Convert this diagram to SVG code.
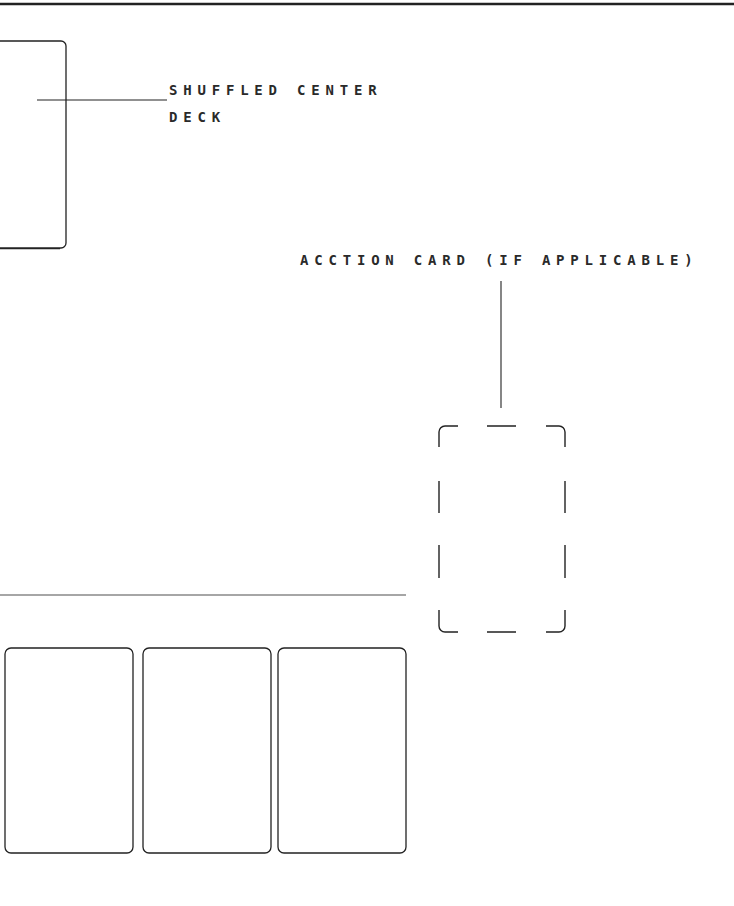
<svg xmlns="http://www.w3.org/2000/svg" width="734" height="906" viewBox="0 0 734 906">
<style>
.card{fill:#fff;stroke:#222;stroke-width:1.3}
.lbl{font-family:"DejaVu Sans Mono","Liberation Mono",monospace;font-size:14px;font-weight:bold;letter-spacing:5.8px;fill:#2a2a2a}
.ln{stroke:#222;stroke-width:1.1;fill:none}
.dash{stroke:#222;stroke-width:1.4;fill:none;stroke-linecap:butt}
</style>
<rect width="734" height="906" fill="#fff"/>
<line x1="0" y1="4" x2="734" y2="4" stroke="#222" stroke-width="2.6"/>
<line x1="0" y1="595" x2="406" y2="595" stroke="#888" stroke-width="1.5"/>
<g id="deck">
<rect class="card" x="-60" y="41" width="126" height="207" rx="5"/>
<line x1="0" y1="248.6" x2="60" y2="248.6" stroke="#222" stroke-width="1.2"/>
</g>
<g id="action-card">
<path class="dash" d="M439 447V432A6 6 0 0 1 445 426H458M487 426H516M546 426H559A6 6 0 0 1 565 432V447M439 481V513M439 545V578M565 481V513M565 545V578M439 610V626A6 6 0 0 0 445 632H458M487 632H516M546 632H559A6 6 0 0 0 565 626V610"/>
</g>
<g id="hand-card-1"><rect class="card" x="5" y="648" width="128" height="205" rx="6"/></g>
<g id="hand-card-2"><rect class="card" x="143" y="648" width="128" height="205" rx="6"/></g>
<g id="hand-card-3"><rect class="card" x="278" y="648" width="128" height="205" rx="6"/></g>
<g id="connectors">
<line class="ln" x1="37" y1="100" x2="167" y2="100"/>
<line class="ln" x1="501" y1="281" x2="501" y2="408"/>
</g>
<g id="labels">
<text class="lbl" x="169" y="95">SHUFFLED CENTER</text>
<text class="lbl" x="169" y="122">DECK</text>
<text class="lbl" x="300" y="265">ACCTION CARD (IF APPLICABLE)</text>
</g>
</svg>
